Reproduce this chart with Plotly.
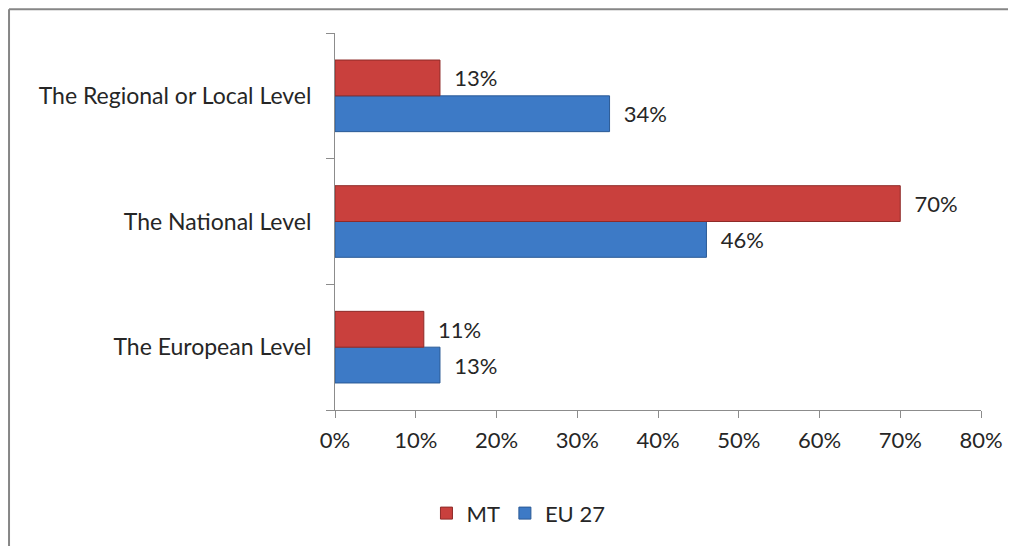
import plotly.graph_objects as go

categories = ["The European Level", "The National Level", "The Regional or Local Level"]
mt_values = [11, 70, 13]
eu_values = [13, 46, 34]
x_ticks = [0, 10, 20, 30, 40, 50, 60, 70, 80]
x_tick_labels = ["0%", "10%", "20%", "30%", "40%", "50%", "60%", "70%", "80%"]

FONT = "Lato, Open Sans, sans-serif"
TXT = "#262626"
FS = 22
BORDER = dict(color="#868686", width=2)

fig = go.Figure()
fig.add_trace(go.Bar(
    y=categories, x=eu_values, orientation="h", name="EU 27",
    marker=dict(color="#3D7AC6", line=dict(color="#2A5A95", width=1)),
    text=[f"{v}%" for v in eu_values], textposition="outside",
    texttemplate="  %{text}",
    textfont=dict(size=FS, color=TXT, family=FONT),
    legendrank=2, cliponaxis=False,
))
fig.add_trace(go.Bar(
    y=categories, x=mt_values, orientation="h", name="MT",
    marker=dict(color="#C9403D", line=dict(color="#8E2A28", width=1)),
    text=[f"{v}%" for v in mt_values], textposition="outside",
    texttemplate="  %{text}",
    textfont=dict(size=FS, color=TXT, family=FONT),
    legendrank=1, cliponaxis=False,
))

fig.update_layout(
    width=1008, height=538,
    barmode="group", bargap=0.43, bargroupgap=0,
    plot_bgcolor="white", paper_bgcolor="white",
    margin=dict(l=327, r=35, t=25, b=134),
    font=dict(family=FONT, size=FS, color=TXT),
    legend=dict(orientation="h", x=0.284, xanchor="center", y=-0.274, yanchor="middle",
                font=dict(size=FS, color=TXT), itemwidth=30),
    showlegend=True,
    xaxis=dict(range=[0, 80], tickvals=x_ticks, ticktext=x_tick_labels,
               showgrid=False, zeroline=False, showline=True, linecolor="#8C8C8C",
               ticks="outside", ticklen=7, tickcolor="#8C8C8C", fixedrange=True,
               ticklabelstandoff=4,
               tickfont=dict(size=FS, color=TXT)),
    yaxis=dict(showgrid=False, zeroline=False, showline=True, linecolor="#8C8C8C",
               ticks="outside", ticklen=8, tickcolor="#8C8C8C", tickson="boundaries",
               ticklabelstandoff=18,
               tickfont=dict(size=23, color=TXT)),
    shapes=[
        dict(type="line", xref="paper", yref="paper",
             x0=-0.5046, x1=-0.5046, y0=-0.6, y1=1.0633, line=BORDER, layer="below"),
        dict(type="line", xref="paper", yref="paper",
             x0=-0.5046, x1=1.3, y0=1.0633, y1=1.0633, line=BORDER, layer="below"),
    ],
)

fig.write_html("out.html")
